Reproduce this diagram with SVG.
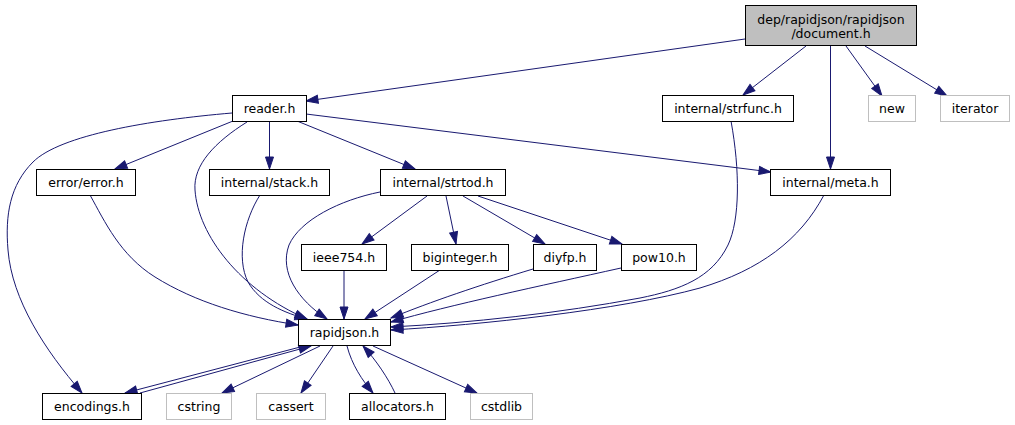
<svg xmlns="http://www.w3.org/2000/svg" width="1015" height="425" viewBox="0 0 1015 425">
<style>
.n rect{fill:#fff;stroke:#000;stroke-width:1}
.g rect{fill:#fff;stroke:#bfbfbf;stroke-width:1}
.root rect{fill:#bfbfbf;stroke:#000;stroke-width:1}
text{font-family:"DejaVu Sans","Liberation Sans",sans-serif;font-size:12.5px;fill:#000;text-anchor:middle}
#edges path{fill:none;stroke:#191970;stroke-width:1;marker-end:url(#arr)}
</style>
<defs>
<marker id="arr" markerWidth="14" markerHeight="10" refX="12" refY="4" orient="auto" markerUnits="userSpaceOnUse" overflow="visible">
<path d="M0,0 L12,4 L0,8 z" fill="#191970" stroke="#191970" stroke-width="1"/>
</marker>
</defs>
<rect width="1015" height="425" fill="#fff"/>
<g id="edges">
<path d="M745,39 L306,101"/>
<path d="M806,46 L743,95"/>
<path d="M830.5,46 L830.5,169"/>
<path d="M846,46 L882,96"/>
<path d="M865,46 L947,96"/>
<path d="M232,113 C150,120 60,135 33,162 C10,185 5,215 8,250 C12,300 45,350 82,393"/>
<path d="M233,121 L115,169"/>
<path d="M247,122 C215,142 193,165 195,190 C198,235 240,290 307,319"/>
<path d="M269.5,121 L269.5,169"/>
<path d="M297,121 L415,169"/>
<path d="M306,114 L771,172"/>
<path d="M90,195 C105,222 120,255 155,277 C195,302 245,317 298,325"/>
<path d="M260,195 C244,220 236,258 248,282 C260,303 285,313 307,319"/>
<path d="M380,192 C340,200 300,220 289,245 C279,272 298,300 327,319"/>
<path d="M427,196 L362,244"/>
<path d="M446,196 L456,244"/>
<path d="M463,196 L545,244"/>
<path d="M478,196 L622,244"/>
<path d="M344,270 L344,319"/>
<path d="M440,270 L365,319"/>
<path d="M533,269 C480,285 430,302 391,318"/>
<path d="M621,268 C540,286 450,305 391,322"/>
<path d="M731,121 C740,170 740,220 728,245 C712,278 680,290 640,298 C560,313 470,323 391,327"/>
<path d="M824,195 C800,240 760,270 700,288 C620,310 480,325 391,330"/>
<path d="M304,346 L125,393"/>
<path d="M140,393 L311,346"/>
<path d="M320,346 L222,393"/>
<path d="M333,346 L301,393"/>
<path d="M347,346 C352,365 362,380 373,393"/>
<path d="M395,393 C388,378 376,360 363,346"/>
<path d="M373,346 L477,393"/>
</g>
<g id="document" class="root"><rect x="745.5" y="5.5" width="171" height="40"/><text x="831" y="23.5">dep/rapidjson/rapidjson</text><text x="831" y="37.5">/document.h</text></g>
<g id="reader" class="n"><rect x="232.5" y="95.5" width="74" height="26"/><text x="269.5" y="112.5">reader.h</text></g>
<g id="strfunc" class="n"><rect x="662.5" y="95.5" width="131" height="26"/><text x="728" y="112.5">internal/strfunc.h</text></g>
<g id="new" class="g"><rect x="868.5" y="95.5" width="47" height="26"/><text x="892" y="112.5">new</text></g>
<g id="iterator" class="g"><rect x="940.5" y="95.5" width="69" height="26"/><text x="975" y="112.5">iterator</text></g>
<g id="error" class="n"><rect x="36.5" y="169.5" width="99" height="26"/><text x="86" y="186.5">error/error.h</text></g>
<g id="stack" class="n"><rect x="209.5" y="169.5" width="120" height="26"/><text x="269.5" y="186.5">internal/stack.h</text></g>
<g id="strtod" class="n"><rect x="380.5" y="169.5" width="125" height="26"/><text x="443" y="186.5">internal/strtod.h</text></g>
<g id="meta" class="n"><rect x="770.5" y="169.5" width="120" height="26"/><text x="830.5" y="186.5">internal/meta.h</text></g>
<g id="ieee754" class="n"><rect x="301.5" y="244.5" width="85" height="26"/><text x="344" y="261.5">ieee754.h</text></g>
<g id="biginteger" class="n"><rect x="411.5" y="244.5" width="97" height="26"/><text x="460" y="261.5">biginteger.h</text></g>
<g id="diyfp" class="n"><rect x="533.5" y="244.5" width="63" height="26"/><text x="565" y="261.5">diyfp.h</text></g>
<g id="pow10" class="n"><rect x="621.5" y="244.5" width="75" height="26"/><text x="659" y="261.5">pow10.h</text></g>
<g id="rapidjson" class="n"><rect x="298.5" y="319.5" width="92" height="26"/><text x="344.5" y="336.5">rapidjson.h</text></g>
<g id="encodings" class="n"><rect x="42.5" y="393.5" width="99" height="26"/><text x="92" y="410.5">encodings.h</text></g>
<g id="cstring" class="g"><rect x="166.5" y="393.5" width="65" height="26"/><text x="199" y="410.5">cstring</text></g>
<g id="cassert" class="g"><rect x="256.5" y="393.5" width="69" height="26"/><text x="291" y="410.5">cassert</text></g>
<g id="allocators" class="n"><rect x="349.5" y="393.5" width="96" height="26"/><text x="397.5" y="410.5">allocators.h</text></g>
<g id="cstdlib" class="g"><rect x="470.5" y="393.5" width="62" height="26"/><text x="501.5" y="410.5">cstdlib</text></g>
</svg>
